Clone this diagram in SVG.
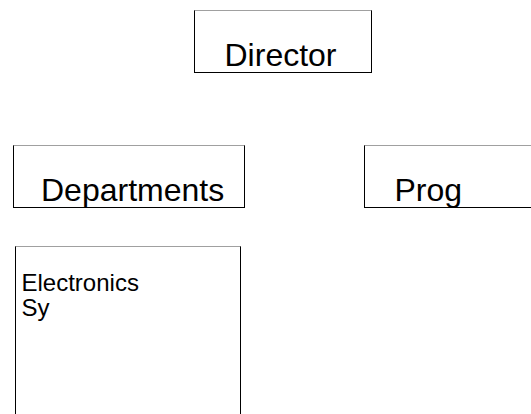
<svg xmlns="http://www.w3.org/2000/svg" width="531" height="414" viewBox="0 0 531 414">
<style>
.box{fill:#fff;stroke:#000;stroke-width:1}
.top{stroke:#a0a0a0;stroke-width:1}
.big{font-family:"Liberation Sans",Arial,sans-serif;font-size:32px;fill:#000}
.small{font-family:"Liberation Sans",Arial,sans-serif;font-size:24px;fill:#000}
</style>
<rect width="531" height="414" fill="#fff"/>
<g id="connectors"></g>
<g id="director">
<rect class="box" x="194.5" y="10.5" width="177" height="62"/>
<line class="top" x1="194.5" y1="10.5" x2="371.5" y2="10.5"/>
<text class="big" x="224.5" y="66">Director</text>
</g>
<g id="departments">
<rect class="box" x="13.5" y="145.5" width="231" height="62"/>
<line class="top" x1="13.5" y1="145.5" x2="244.5" y2="145.5"/>
<text class="big" x="41" y="201">Departments</text>
</g>
<g id="prog">
<rect class="box" x="364.5" y="145.5" width="180" height="62"/>
<line class="top" x1="364.5" y1="145.5" x2="544.5" y2="145.5"/>
<text class="big" x="394.5" y="201">Prog</text>
</g>
<g id="electronics">
<rect class="box" x="15.5" y="246.5" width="225" height="180"/>
<line class="top" x1="15.5" y1="246.5" x2="240.5" y2="246.5"/>
<text class="small" x="21.5" y="291">Electronics</text>
<text class="small" x="21.5" y="316">Sy</text>
</g>
</svg>
